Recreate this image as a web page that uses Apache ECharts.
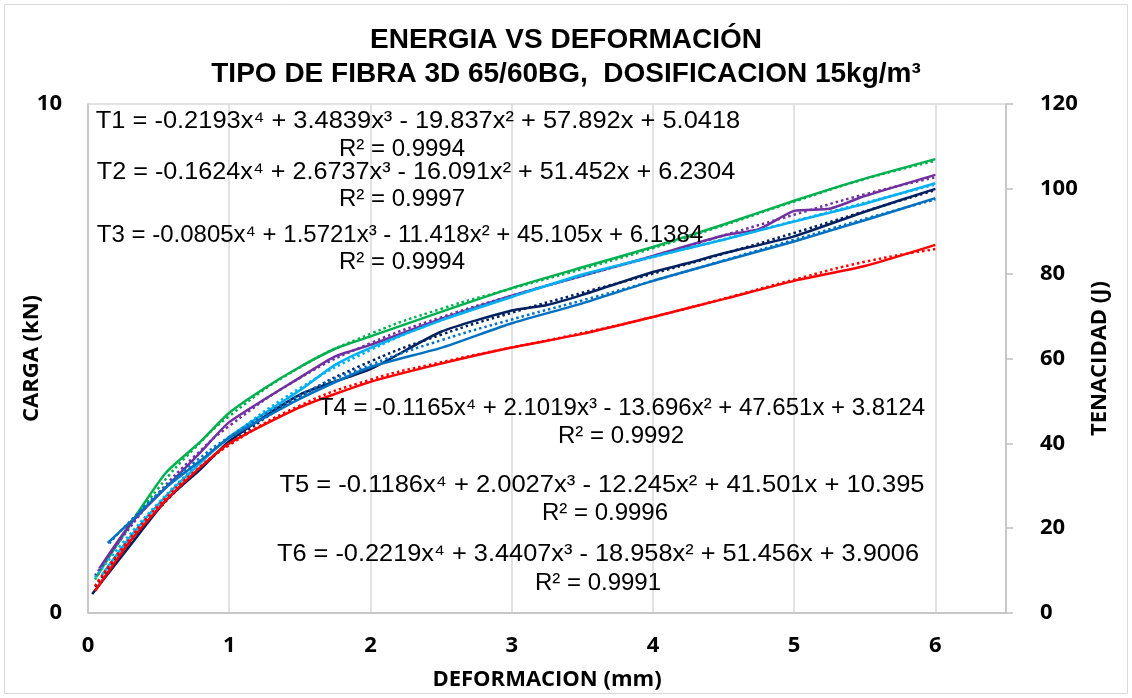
<!DOCTYPE html>
<html>
<head>
<meta charset="utf-8">
<script src="https://cdn.jsdelivr.net/npm/echarts@6/dist/echarts.min.js"></script>
<style>
    html, body { margin: 0; padding: 0; background: #fff; }
    #main { width: 1132px; height: 698px; }
</style>
</head>
<body>
<div id="main"></div>
<script>
// ticks
const xTicks = [0, 1, 2, 3, 4, 5, 6];
const rightTicks = [0, 20, 40, 60, 80, 100, 120];

// datos medidos (deformacion mm -> tenacidad J)
const t1X = [0.06, 0.3, 0.55, 0.8, 1, 1.25, 1.5, 1.75, 2, 2.5, 3, 3.5, 4, 4.5, 5, 5.5, 6];
const t1Y = [8.5, 21, 33, 40.5, 47.2, 53, 58, 62.3, 65.2, 71, 76.6, 81.5, 86.3, 91.6, 97.2, 102.4, 107];

const t2X = [0.08, 0.3, 0.55, 0.8, 1, 1.5, 1.75, 2, 2.5, 3, 3.5, 4, 4.5, 4.75, 5, 5.25, 5.5, 6];
const t2Y = [10.5, 21, 29.5, 38, 45, 55.5, 60.5, 63.2, 69.3, 74.8, 79.5, 84.2, 89, 90.5, 94.8, 95.3, 98.3, 103.3];

const t3X = [0.1, 0.3, 0.55, 0.8, 1, 1.5, 1.75, 2, 2.5, 3, 3.5, 4, 4.5, 5, 5.5, 6];
const t3Y = [9, 18, 27.5, 35.5, 41.5, 52.5, 58.5, 62.5, 69, 74.5, 79.8, 84, 88, 92.3, 96.5, 101.3];

const t4X = [0.03, 0.3, 0.55, 0.8, 1, 1.5, 2, 2.5, 3, 3.25, 3.5, 4, 4.25, 4.5, 5, 5.5, 6];
const t4Y = [4.5, 16, 26.5, 34, 40.5, 51.5, 57.5, 66.3, 71.3, 72.6, 75, 80.4, 82.5, 84.8, 88.8, 94.6, 100];

const t5X = [0.14, 0.3, 0.55, 0.8, 1, 1.5, 2, 2.5, 3, 3.5, 4, 4.5, 5, 5.5, 6];
const t5Y = [16.5, 21.5, 29.5, 36, 41.3, 50.5, 58, 62.5, 68.3, 73, 78.3, 83, 87.6, 92.6, 97.8];

const t6X = [0.05, 0.3, 0.55, 0.8, 1, 1.5, 2, 2.5, 3, 3.5, 4, 4.5, 5, 5.5, 6];
const t6Y = [5.2, 17, 26.5, 34.5, 40, 48.5, 54.5, 58.8, 62.6, 65.8, 69.8, 74, 78.3, 81.8, 86.8];

// lineas de tendencia (polinomica grado 4)
const trendX = [0.05, 0.25, 0.5, 0.75, 1, 1.5, 2, 2.5, 3, 3.5, 4, 4.5, 5, 5.5, 6];
const trend5X = [0.15, 0.25, 0.5, 0.75, 1, 1.5, 2, 2.5, 3, 3.5, 4, 4.5, 5, 5.5, 6];
const t1Trend = [7.9, 18.3, 29.5, 38.7, 46.4, 57.9, 65.8, 71.7, 76.5, 81.1, 86.0, 91.4, 97.0, 102.3, 106.6];
const t2Trend = [8.8, 18.1, 28.3, 36.8, 44.1, 55.4, 63.6, 69.7, 74.8, 79.5, 84.1, 89.0, 93.9, 98.7, 102.7];
const t3Trend = [8.4, 16.7, 26.0, 34.2, 41.3, 53.0, 62.0, 69.0, 74.6, 79.5, 83.9, 88.1, 92.4, 96.7, 101.0];
const t4Trend = [6.2, 14.9, 24.5, 32.7, 39.8, 51.0, 59.3, 65.6, 70.8, 75.5, 80.0, 84.7, 89.6, 94.7, 99.7];
const t5Trend = [16.4, 20.0, 28.3, 35.4, 41.5, 51.3, 58.5, 64.3, 69.2, 73.7, 78.3, 83.1, 88.0, 92.9, 97.5];
const t6Trend = [6.4, 15.6, 25.3, 33.2, 39.6, 48.9, 55.0, 59.1, 62.6, 66.0, 69.8, 74.1, 78.6, 82.8, 85.8];

const names = ['T1', 'T2', 'T3', 'T4', 'T5', 'T6'];
const colors = ['#00B050', '#7030A0', '#00B0F0', '#002060', '#0070C0', '#FF0000'];

const equations = [
    'T1 = -0.2193x⁴ + 3.4839x³ - 19.837x² + 57.892x + 5.0418',
    'T2 = -0.1624x⁴ + 2.6737x³ - 16.091x² + 51.452x + 6.2304',
    'T3 = -0.0805x⁴ + 1.5721x³ - 11.418x² + 45.105x + 6.1384',
    'T4 = -0.1165x⁴ + 2.1019x³ - 13.696x² + 47.651x + 3.8124',
    'T5 = -0.1186x⁴ + 2.0027x³ - 12.245x² + 41.501x + 10.395',
    'T6 = -0.2219x⁴ + 3.4407x³ - 18.958x² + 51.456x + 3.9006'
];
const r2 = ['R² = 0.9994', 'R² = 0.9997', 'R² = 0.9994', 'R² = 0.9992', 'R² = 0.9996', 'R² = 0.9991'];

const dataX = [t1X, t2X, t3X, t4X, t5X, t6X];
const dataY = [t1Y, t2Y, t3Y, t4Y, t5Y, t6Y];
const trends = [t1Trend, t2Trend, t3Trend, t4Trend, t5Trend, t6Trend];
const trendXs = [trendX, trendX, trendX, trendX, trend5X, trendX];

function pairs(xs, ys) {
    return xs.map((x, i) => [x, ys[i]]);
}

const series = [];
names.forEach((n, i) => {
    series.push({
        name: n,
        type: 'line',
        yAxisIndex: 1,
        data: pairs(dataX[i], dataY[i]),
        showSymbol: false,
        smooth: 0.2,
        lineStyle: { color: colors[i], width: 2.5 },
        z: 3 + i
    });
    series.push({
        name: n + ' tendencia',
        type: 'line',
        yAxisIndex: 1,
        data: pairs(trendXs[i], trends[i]),
        showSymbol: false,
        smooth: true,
        lineStyle: { color: colors[i], width: 2.5, type: [2.5, 3] },
        z: 3 + i
    });
});

// posiciones de las etiquetas de tendencia (como en excel), algunas un poco mas anchas
const eqPos = [[418, 121], [416, 172], [400, 235], [622, 408], [602, 485], [598, 554]];
const eqScaleX = [1.06, 1.05, 1.0, 1.0, 1.064, 1.056];
const r2Pos = [[402, 149], [402, 199], [402, 262], [621, 436], [605, 513], [598, 583]];

const graphic = [{
    type: 'rect',
    shape: { x: 4.5, y: 4.5, width: 1123, height: 689 },
    style: { fill: 'none', stroke: '#d9d9d9', lineWidth: 1 },
    silent: true
}];
equations.forEach((t, i) => {
    graphic.push({
        type: 'text', x: eqPos[i][0], y: eqPos[i][1], scaleX: eqScaleX[i], z: 10,
        style: { text: t, font: '24px "Liberation Sans", Arial', fill: '#000', align: 'center', verticalAlign: 'middle' }
    });
    graphic.push({
        type: 'text', x: r2Pos[i][0], y: r2Pos[i][1], z: 10,
        style: { text: r2[i], font: '24px "Liberation Sans", Arial', fill: '#000', align: 'center', verticalAlign: 'middle' }
    });
});

const axisFont = { fontFamily: '"Open Sans", sans-serif', fontWeight: 'bold', fontSize: 22, color: '#000' };

const chart = echarts.init(document.getElementById('main'));
chart.setOption({
    animation: false,
    backgroundColor: '#fff',
    title: {
        text: 'ENERGIA VS DEFORMACIÓN\nTIPO DE FIBRA 3D 65/60BG,  DOSIFICACION 15kg/m³',
        left: 'center',
        top: 18,
        textStyle: {
            fontFamily: '"Liberation Sans", Arial',
            fontWeight: 'bold',
            fontSize: 28,
            lineHeight: 34,
            color: '#000'
        }
    },
    grid: { left: 88, right: 126, top: 104, bottom: 85, outerBoundsMode: 'none' },
    xAxis: {
        type: 'value',
        min: 0,
        max: 6.5,
        interval: 1,
        name: 'DEFORMACION (mm)',
        nameLocation: 'middle',
        nameGap: 56,
        nameTextStyle: axisFont,
        axisLine: { lineStyle: { color: '#bfbfbf', width: 1.5 } },
        axisTick: { show: false },
        axisLabel: Object.assign({ margin: 22, formatter: v => xTicks.includes(v) ? String(v) : '' }, axisFont),
        splitLine: { show: true, lineStyle: { color: '#d9d9d9', width: 1.5 } }
    },
    yAxis: [{
        type: 'value',
        min: 0,
        max: 10,
        interval: 10,
        name: 'CARGA (kN)',
        nameLocation: 'middle',
        nameGap: 45,
        nameMoveOverlap: false,
        nameTextStyle: axisFont,
        axisLine: { show: true, lineStyle: { color: '#bfbfbf', width: 1.5 } },
        axisTick: { show: false },
        axisLabel: Object.assign({ margin: 26 }, axisFont),
        splitLine: { show: true, lineStyle: { color: '#d9d9d9', width: 1.5 } }
    }, {
        type: 'value',
        min: 0,
        max: 120,
        interval: 20,
        position: 'right',
        name: 'TENACIDAD (J)',
        nameLocation: 'middle',
        nameGap: 78,
        nameTextStyle: axisFont,
        axisLine: { show: true, lineStyle: { color: '#bfbfbf', width: 1.5 } },
        axisTick: { show: true, inside: false, length: 7, lineStyle: { color: '#bfbfbf', width: 1.5 } },
        axisLabel: Object.assign({ margin: 34, formatter: v => rightTicks.includes(v) ? String(v) : '' }, axisFont),
        splitLine: { show: false }
    }],
    graphic: graphic,
    series: series
});
</script>
</body>
</html>
